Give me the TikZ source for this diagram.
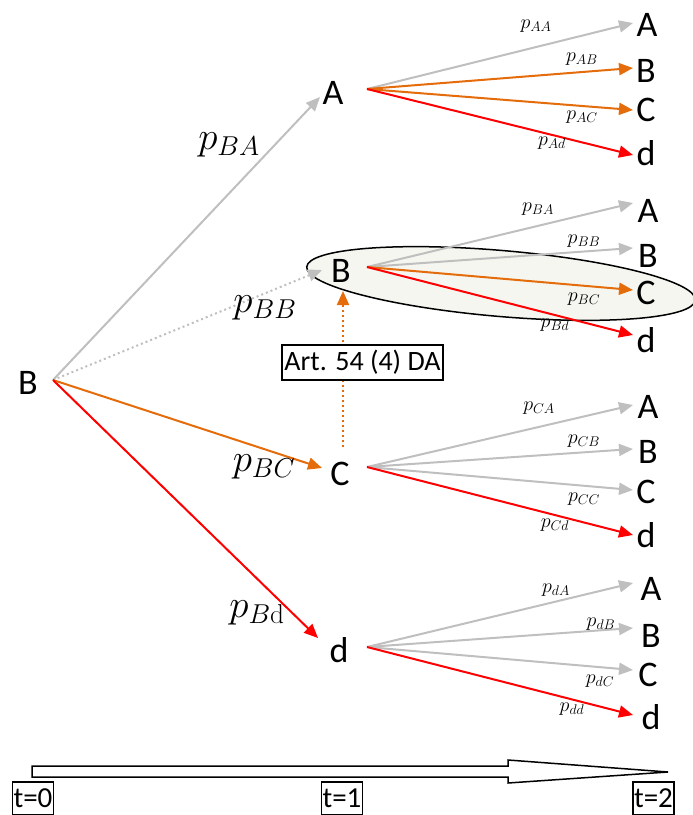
\RequirePackage{fix-cm}
\documentclass[tikz,border=0pt]{standalone}
\usepackage[no-math]{fontspec}
\setmainfont{Carlito}
\usetikzlibrary{arrows.meta}
\definecolor{lgray}{RGB}{191,191,191}
\definecolor{orng}{RGB}{228,108,10}
\definecolor{ellfill}{RGB}{246,246,240}
\begin{document}
\begin{tikzpicture}[x=1pt,y=-1pt,
  lbl/.style={font=\fontsize{36}{40}\selectfont, inner sep=0pt},
  plbl/.style={font=\fontsize{20}{22}\selectfont, inner sep=0pt},
  bigp/.style={font=\fontsize{39}{42}\selectfont, inner sep=0pt},
  arr/.style={line width=2pt, -{Triangle[length=14pt,width=12pt]}},
  garr/.style={arr, draw=lgray},
  oarr/.style={arr, draw=orng},
  rarr/.style={arr, draw=red},
  dotline/.style={dash pattern=on 2pt off 3pt},
  tbox/.style={draw, line width=1.2pt, font=\fontsize{29}{30}\selectfont, inner sep=1pt, minimum width=40pt, minimum height=33pt},
  artbox/.style={draw, line width=1.2pt, fill=white, font=\fontsize{28}{30}\selectfont, inner sep=1pt, minimum width=161pt, minimum height=35pt}
]
\useasboundingbox (0,0) rectangle (693,815);

% highlighted group
\draw[line width=1.5pt, fill=ellfill, rotate around={-4.9:(501,283.5)}] (501,283.5) ellipse [x radius=195, y radius=33];

% root
\node[lbl] (B0) at (28,383) {B};
\coordinate (s0) at (53,380);

% level 1
\node[lbl] (A1) at (333,93) {A};
\coordinate (tA1) at (320,97);  \coordinate (oA1) at (367,89);
\node[lbl] (B1) at (341,271) {B};
\coordinate (tB1) at (322,270); \coordinate (oB1) at (367,267);
\node[lbl] (C1) at (340,474) {C};
\coordinate (tC1) at (322,468); \coordinate (oC1) at (367,467);
\node[lbl] (d1) at (339,650) {d};
\coordinate (td1) at (318,638); \coordinate (od1) at (367,647);

\draw[garr] (s0) -- (tA1);
\draw[garr, dotline] (s0) -- (tB1);
\draw[oarr] (s0) -- (tC1);
\draw[rarr] (s0) -- (td1);

\node[bigp] (pBA) at (229,145) {$p_{BA}$};
\node[bigp] (pBB) at (265,308) {$p_{BB}$};
\node[bigp] (pBC) at (264,467) {$p_{BC}$};
\node[bigp] (pBd) at (257,613) {$p_{B\mathrm{d}}$};

% cluster A
\node[lbl] (AA) at (647,25) {A};
\node[lbl] (AB) at (646,71) {B};
\node[lbl] (AC) at (646,110) {C};
\node[lbl] (Ad) at (646,153) {d};
\coordinate (tAA) at (633,23);
\coordinate (tAB) at (633,68);
\coordinate (tAC) at (633,110);
\coordinate (tAd) at (633,155);
\draw[garr] (oA1) -- (tAA);
\draw[oarr] (oA1) -- (tAB);
\draw[oarr] (oA1) -- (tAC);
\draw[rarr] (oA1) -- (tAd);
\node[plbl] (pAA) at (536,26) {$p_{AA}$};
\node[plbl] (pAB) at (582,59) {$p_{AB}$};
\node[plbl] (pAC) at (582,117) {$p_{AC}$};
\node[plbl] (pAd) at (552,143) {$p_{Ad}$};

% cluster B
\node[lbl] (BA) at (648,211) {A};
\node[lbl] (BB) at (648,256) {B};
\node[lbl] (BC) at (646,293) {C};
\node[lbl] (Bd) at (646,340) {d};
\coordinate (tBA) at (633,203);
\coordinate (tBB) at (633,248);
\coordinate (tBC) at (633,290);
\coordinate (tBd) at (633,335);
\draw[garr] (oB1) -- (tBA);
\draw[garr] (oB1) -- (tBB);
\draw[oarr] (oB1) -- (tBC);
\draw[rarr] (oB1) -- (tBd);
\node[plbl] (pBAs) at (538,209) {$p_{BA}$};
\node[plbl] (pBBs) at (584,241) {$p_{BB}$};
\node[plbl] (pBCs) at (584,299) {$p_{BC}$};
\node[plbl] (pBds) at (555,325) {$p_{Bd}$};

% cluster C
\node[lbl] (CA) at (648,407) {A};
\node[lbl] (CB) at (648,452) {B};
\node[lbl] (CC) at (646,492) {C};
\node[lbl] (Cd) at (646,535) {d};
\coordinate (tCA) at (633,405);
\coordinate (tCB) at (633,449);
\coordinate (tCC) at (633,490);
\coordinate (tCd) at (633,535);
\draw[garr] (oC1) -- (tCA);
\draw[garr] (oC1) -- (tCB);
\draw[garr] (oC1) -- (tCC);
\draw[rarr] (oC1) -- (tCd);
\node[plbl] (pCA) at (539,408) {$p_{CA}$};
\node[plbl] (pCB) at (584,441) {$p_{CB}$};
\node[plbl] (pCC) at (584,499) {$p_{CC}$};
\node[plbl] (pCd) at (555,525) {$p_{Cd}$};

% cluster d
\node[lbl] (dA) at (651,589) {A};
\node[lbl] (dB) at (651,636) {B};
\node[lbl] (dC) at (648,675) {C};
\node[lbl] (dd) at (651,717) {d};
\coordinate (tdA) at (633,583);
\coordinate (tdB) at (633,628);
\coordinate (tdC) at (633,670);
\coordinate (tdd) at (633,715);
\draw[garr] (od1) -- (tdA);
\draw[garr] (od1) -- (tdB);
\draw[garr] (od1) -- (tdC);
\draw[rarr] (od1) -- (tdd);
\node[plbl] (pdA) at (556,590) {$p_{dA}$};
\node[plbl] (pdB) at (601,624) {$p_{dB}$};
\node[plbl] (pdC) at (600,681) {$p_{dC}$};
\node[plbl] (pdd) at (572,709) {$p_{dd}$};

% Art. 54 (4) DA transition
\coordinate (cUp) at (343,447);
\coordinate (bDown) at (343,291);
\draw[oarr, dotline] (cUp) -- (bDown);
\node[artbox] (art) at (362.5,362.5) {Art. 54 (4) DA};

% time axis
\draw[line width=1.5pt, fill=white] (32,766) -- (508,766) -- (508,760) -- (668,772) -- (508,783) -- (508,777) -- (32,777) -- cycle;
\node[tbox] (t0) at (33,798.5) {t=0};
\node[tbox] (t1) at (342,798.5) {t=1};
\node[tbox] (t2) at (653.5,798.5) {t=2};
\end{tikzpicture}
\end{document}
